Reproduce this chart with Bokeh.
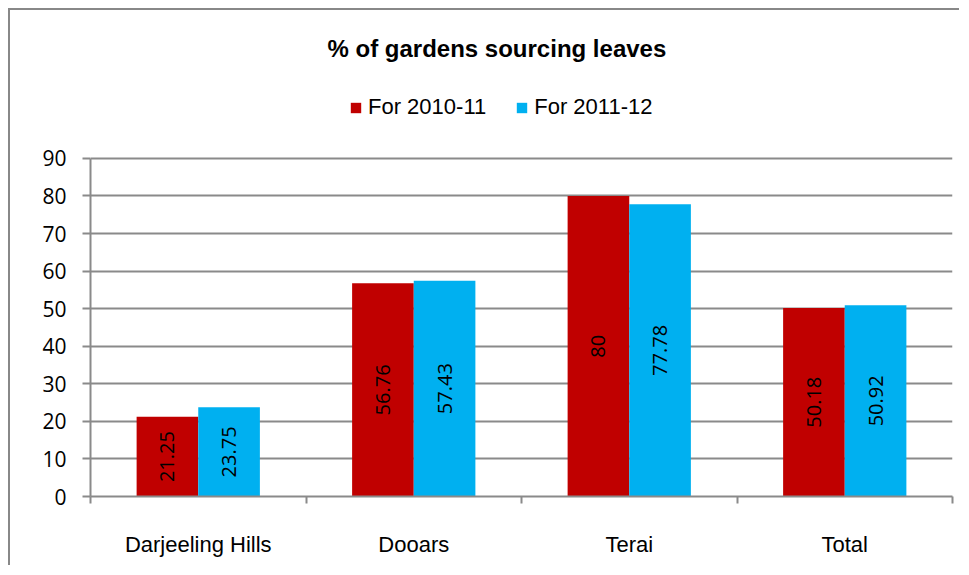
import numpy as np
from bokeh.plotting import figure
from bokeh.models import (Range1d, FixedTicker, Legend, LegendItem, ColumnDataSource)
from bokeh.core.properties import value
from bokeh.embed import file_html
from bokeh.resources import INLINE

# ---- data ----
categories = ["Darjeeling Hills", "Dooars", "Terai", "Total"]
series_names = ["For 2010-11", "For 2011-12"]
v2010 = [21.25, 56.76, 80, 50.18]
v2011 = [23.75, 57.43, 77.78, 50.92]
y_ticks = [0, 10, 20, 30, 40, 50, 60, 70, 80, 90]

RED = "#C00000"
BLUE = "#00B0F0"
GRAY = "#8a8a8a"
SANS = "Liberation Sans"
NUMF = "Open Sans"

n = len(categories)
centers = np.arange(n) + 0.5
bw = 0.286

p = figure(width=951, height=557, output_backend="svg", toolbar_location=None,
           x_range=Range1d(0, n), y_range=Range1d(0, 113.4),
           min_border_left=80, min_border_right=9, min_border_top=60,
           min_border_bottom=71)
p.styles = {"margin-left": "8px", "margin-top": "8px",
            "border-left": "2px solid #888888", "border-top": "2px solid #888888"}
p.outline_line_color = None
p.background_fill_color = "white"
p.border_fill_color = "white"

# title
p.title.text = "% of gardens sourcing leaves"
p.title.align = "left"
p.title.offset = 237
p.title.standoff = 17
p.title.text_font = SANS
p.title.text_font_style = "bold"
p.title.text_font_size = "24px"
p.title.text_color = "black"

src1 = ColumnDataSource(dict(x=centers - bw / 2, top=v2010, lab=[f"{v:g}" for v in v2010],
                             ym=[v / 2 for v in v2010]))
src2 = ColumnDataSource(dict(x=centers + bw / 2, top=v2011, lab=[f"{v:g}" for v in v2011],
                             ym=[v / 2 for v in v2011]))

r1 = p.vbar(x="x", top="top", width=bw, bottom=0, source=src1, fill_color=RED, line_color=None)
r2 = p.vbar(x="x", top="top", width=bw, bottom=0, source=src2, fill_color=BLUE, line_color=None)

for s in (src1, src2):
    p.text(x="x", y="ym", text="lab", source=s, angle=np.pi / 2, text_align="center",
           text_baseline="middle", text_font=value(NUMF), text_font_size="20px",
           text_color="black")

# axes
p.xaxis.ticker = FixedTicker(ticks=list(centers), minor_ticks=list(range(n + 1)))
p.xaxis.major_label_overrides = {float(c): cat for c, cat in zip(centers, categories)}
p.xaxis.major_tick_out = 0
p.xaxis.major_tick_in = 0
p.xaxis.minor_tick_out = 7
p.xaxis.minor_tick_in = 0
p.xaxis.minor_tick_line_color = GRAY
p.xaxis.minor_tick_line_width = 2
p.xaxis.axis_line_color = GRAY
p.xaxis.axis_line_width = 2
p.xaxis.major_label_text_font = SANS
p.xaxis.major_label_text_font_size = "22px"
p.xaxis.major_label_text_color = "black"
p.xaxis.major_label_standoff = 28

p.yaxis.ticker = FixedTicker(ticks=y_ticks)
p.yaxis.bounds = (0, 90)
p.yaxis.minor_tick_line_color = None
p.yaxis.major_tick_out = 8
p.yaxis.major_tick_in = 0
p.yaxis.major_tick_line_color = GRAY
p.yaxis.major_tick_line_width = 2
p.yaxis.axis_line_color = GRAY
p.yaxis.axis_line_width = 2
p.yaxis.major_label_text_font = NUMF
p.yaxis.major_label_text_font_size = "21px"
p.yaxis.major_label_text_color = "black"
p.yaxis.major_label_standoff = 16

p.xgrid.grid_line_color = None
p.ygrid.grid_line_color = GRAY
p.ygrid.grid_line_width = 2

legend = Legend(items=[LegendItem(label=series_names[0], renderers=[r1]),
                       LegendItem(label=series_names[1], renderers=[r2])],
                orientation="horizontal", location=(259, 376),
                glyph_width=13, glyph_height=13, label_standoff=6, spacing=29,
                padding=0, margin=0, label_height=20,
                label_text_font=SANS, label_text_font_size="22px",
                label_text_color="black",
                border_line_color=None, background_fill_alpha=0)
p.add_layout(legend)

open("out.html", "w").write(file_html(p, INLINE))
